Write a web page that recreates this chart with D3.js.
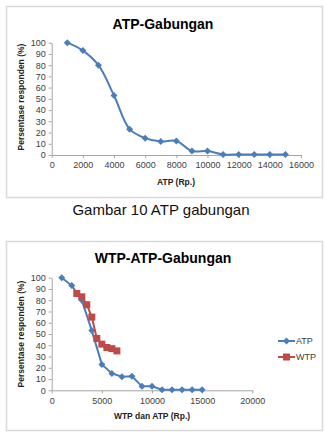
<!DOCTYPE html>
<html>
<head>
<meta charset="utf-8">
<script src="https://cdn.jsdelivr.net/npm/d3@7"></script>
<style>
  body { margin: 0; background: #fff; }
  svg { display: block; font-family: 'Liberation Sans', Arial, sans-serif; }
</style>
</head>
<body>
<div id="chart"></div>
<script>
// ATP data (x in Rp., y in % respondents)
var atpX = [1000, 2000, 3000, 4000, 5000, 6000, 7000, 8000, 9000, 10000, 11000, 12000, 13000, 14000, 15000];
var atpY = [100, 93, 80, 53, 23, 15, 12, 12.5, 3.5, 3.5, 0.5, 0.5, 0.5, 0.5, 0.5];
// WTP data
var wtpX = [2500, 3000, 3500, 4000, 4500, 5000, 5500, 6000, 6500];
var wtpY = [86, 83, 76, 65, 46, 41, 38, 37, 35];

var yTicks = [0, 10, 20, 30, 40, 50, 60, 70, 80, 90, 100];
var xTicksTop = [0, 2000, 4000, 6000, 8000, 10000, 12000, 14000, 16000];
var xTicksBottom = [0, 5000, 10000, 15000, 20000];

var blue = '#4a7ebb';
var red = '#be4b48';

var svg = d3.select('#chart').append('svg')
            .attr('width', 327)
            .attr('height', 437);

svg.append('rect').attr('width', 327).attr('height', 437).attr('fill', '#fff');

function zip(xs, ys) {
  return xs.map(function(x, i) { return [x, ys[i]]; });
}

function drawPanel(opts) {
  var g = svg.append('g');
  g.append('rect')
   .attr('x', opts.box[0] + 0.5).attr('y', opts.box[1] + 0.5)
   .attr('width', opts.box[2]).attr('height', opts.box[3])
   .attr('fill', '#fff').attr('stroke', '#d9d9d9').attr('stroke-width', 1.5);

  g.append('text')
   .attr('x', opts.titlePos[0]).attr('y', opts.titlePos[1])
   .attr('text-anchor', 'middle')
   .attr('font-size', 14).attr('font-weight', 'bold')
   .attr('fill', '#000')
   .text(opts.title);

  var x = d3.scaleLinear().domain(opts.xDomain).range(opts.xRange);
  var y = d3.scaleLinear().domain([0, 100]).range(opts.yRange);

  var xAxis = d3.axisBottom(x).tickValues(opts.xTicks).tickSizeInner(3).tickSizeOuter(0).tickPadding(4).tickFormat(d3.format('d'));
  var yAxis = d3.axisLeft(y).tickValues(yTicks).tickSizeInner(3).tickSizeOuter(0).tickPadding(3);

  var xg = g.append('g').attr('transform', 'translate(0,' + opts.yRange[0] + ')').call(xAxis);
  var yg = g.append('g').attr('transform', 'translate(' + opts.xRange[0] + ',0)').call(yAxis);
  [xg, yg].forEach(function(a) {
    a.selectAll('path, line').attr('stroke', '#a6a6a6');
    a.selectAll('text').attr('font-size', 9).attr('fill', '#404040')
     .style('font-family', "'Liberation Sans', Arial, sans-serif");
  });

  g.append('text')
   .attr('x', opts.xLabelPos[0]).attr('y', opts.xLabelPos[1])
   .attr('text-anchor', 'middle').attr('font-size', 8.5).attr('font-weight', 'bold')
   .attr('fill', '#222')
   .text(opts.xLabel);

  g.append('text')
   .attr('transform', 'translate(' + opts.yLabelPos[0] + ',' + opts.yLabelPos[1] + ') rotate(-90)')
   .attr('text-anchor', 'middle').attr('font-size', 8.5).attr('font-weight', 'bold')
   .attr('fill', '#222')
   .text('Persentase responden (%)');

  opts.series.forEach(function(s) {
    var line = d3.line()
                 .x(function(d) { return x(d[0]); })
                 .y(function(d) { return y(d[1]); })
                 .curve(opts.smooth ? d3.curveCatmullRom.alpha(0.5) : d3.curveLinear);
    g.append('path')
     .attr('d', line(s.values))
     .attr('fill', 'none')
     .attr('stroke', s.color)
     .attr('stroke-width', 2);
    drawMarkers(g, s.values.map(function(d) { return [x(d[0]), y(d[1])]; }), s);
  });

  if (opts.legend) {
    opts.series.forEach(function(s, i) {
      var ly = opts.legend[1] + i * 16;
      g.append('line')
       .attr('x1', opts.legend[0]).attr('x2', opts.legend[0] + 17)
       .attr('y1', ly).attr('y2', ly)
       .attr('stroke', s.color).attr('stroke-width', 2);
      drawMarkers(g, [[opts.legend[0] + 8.5, ly]], s);
      g.append('text')
       .attr('x', opts.legend[0] + 18).attr('y', ly + 3)
       .attr('font-size', 9).attr('fill', '#404040')
       .text(s.name);
    });
  }
}

function drawMarkers(g, pts, s) {
  if (s.marker === 'square') {
    g.selectAll(null).data(pts).enter().append('rect')
     .attr('x', function(d) { return d[0] - 3.5; })
     .attr('y', function(d) { return d[1] - 3.5; })
     .attr('width', 7).attr('height', 7)
     .attr('fill', s.color);
  } else {
    g.selectAll(null).data(pts).enter().append('path')
     .attr('d', function(d) {
       return 'M' + d[0] + ',' + (d[1] - 3.5) + 'L' + (d[0] + 3.5) + ',' + d[1] +
              'L' + d[0] + ',' + (d[1] + 3.5) + 'L' + (d[0] - 3.5) + ',' + d[1] + 'Z';
     })
     .attr('fill', s.color);
  }
}

drawPanel({
  box: [6, 6, 316, 191],
  title: 'ATP-Gabungan',
  titlePos: [163, 29],
  xDomain: [0, 16000],
  xRange: [51.7, 301],
  yRange: [155, 42.7],
  xTicks: xTicksTop,
  xLabel: 'ATP (Rp.)',
  xLabelPos: [176, 185],
  yLabelPos: [24, 97],
  smooth: true,
  series: [{ name: 'ATP', values: zip(atpX, atpY), color: blue, marker: 'diamond' }]
});

svg.append('text')
   .attr('x', 161).attr('y', 215)
   .attr('text-anchor', 'middle')
   .attr('font-size', 15)
   .attr('fill', '#111')
   .text('Gambar 10 ATP gabungan');

drawPanel({
  box: [6, 241, 316, 189],
  title: 'WTP-ATP-Gabungan',
  titlePos: [163, 263],
  xDomain: [0, 20000],
  xRange: [51.7, 252.3],
  yRange: [390.3, 277.7],
  xTicks: xTicksBottom,
  xLabel: 'WTP dan ATP (Rp.)',
  xLabelPos: [152, 419],
  yLabelPos: [24, 334],
  smooth: false,
  legend: [278, 341],
  series: [
    { name: 'ATP', values: zip(atpX, atpY), color: blue, marker: 'diamond' },
    { name: 'WTP', values: zip(wtpX, wtpY), color: red, marker: 'square' }
  ]
});
</script>
</body>
</html>
